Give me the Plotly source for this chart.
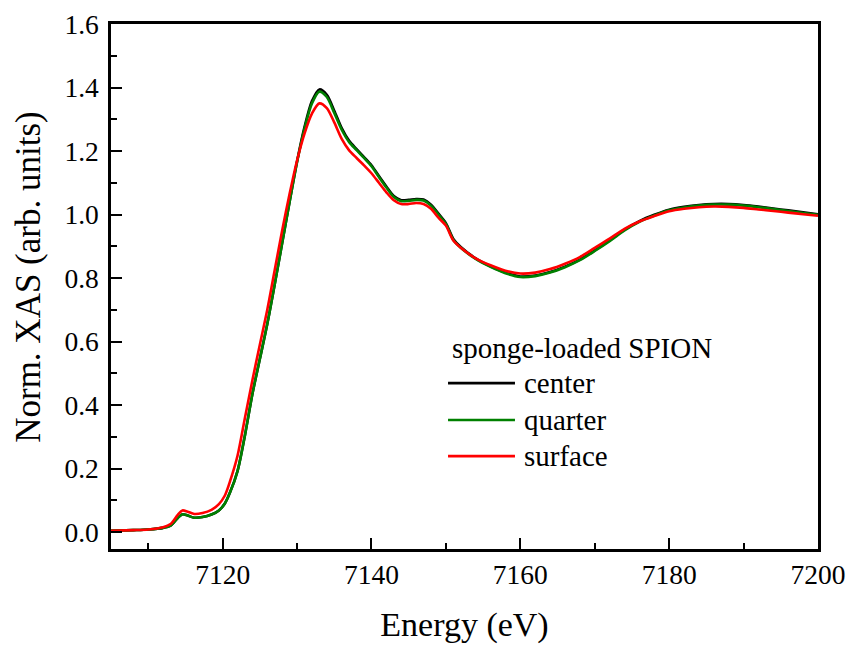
import plotly.graph_objects as go

energy = [7105, 7108, 7110, 7112, 7113, 7114, 7114.6, 7115.3, 7116.2, 7117.3, 7118.5,
          7119.5, 7120.3, 7121, 7122, 7123, 7124, 7125, 7126, 7127, 7128, 7129, 7130,
          7131, 7132, 7133, 7134, 7135, 7136, 7137, 7138, 7139, 7140, 7141, 7142, 7143,
          7144, 7145, 7146, 7147, 7148, 7149, 7150, 7151, 7152, 7154, 7156, 7158, 7160,
          7162, 7164, 7166, 7168, 7170, 7172, 7174, 7176, 7178, 7180, 7182, 7184, 7186,
          7188, 7190, 7192, 7194, 7196, 7198, 7200]

surface = [0.004, 0.006, 0.008, 0.015, 0.025, 0.055, 0.068, 0.064, 0.057, 0.060, 0.070,
           0.088, 0.115, 0.160, 0.240, 0.360, 0.478, 0.590, 0.700, 0.825, 0.950, 1.065, 1.170,
           1.255, 1.318, 1.350, 1.335, 1.290, 1.238, 1.202, 1.178, 1.155, 1.130, 1.100, 1.070, 1.045,
           1.033, 1.033, 1.036, 1.033, 1.018, 0.990, 0.965, 0.918, 0.895, 0.862, 0.840, 0.823, 0.814,
           0.817, 0.828, 0.845, 0.866, 0.895, 0.924, 0.955, 0.978, 0.995, 1.010, 1.018, 1.023, 1.025,
           1.024, 1.021, 1.016, 1.011, 1.006, 1.001, 0.996]

quarter = [0.004, 0.006, 0.008, 0.013, 0.020, 0.045, 0.056, 0.052, 0.045, 0.047, 0.055,
           0.068, 0.090, 0.125, 0.192, 0.305, 0.435, 0.545, 0.655, 0.780, 0.910, 1.040, 1.165,
           1.270, 1.350, 1.387, 1.370, 1.320, 1.267, 1.228, 1.203, 1.178, 1.152, 1.118, 1.085, 1.055,
           1.042, 1.043, 1.046, 1.044, 1.028, 1.000, 0.970, 0.920, 0.895, 0.860, 0.835, 0.815, 0.803,
           0.806, 0.817, 0.834, 0.856, 0.885, 0.916, 0.950, 0.977, 0.997, 1.013, 1.022, 1.028, 1.031,
           1.031, 1.028, 1.023, 1.017, 1.011, 1.005, 0.999]

center = [0.004, 0.006, 0.008, 0.013, 0.020, 0.045, 0.056, 0.052, 0.045, 0.047, 0.055,
          0.068, 0.090, 0.125, 0.192, 0.305, 0.435, 0.545, 0.655, 0.780, 0.910, 1.040, 1.167,
          1.275, 1.357, 1.394, 1.377, 1.327, 1.272, 1.232, 1.206, 1.181, 1.155, 1.121, 1.088, 1.058,
          1.045, 1.046, 1.049, 1.047, 1.031, 1.003, 0.973, 0.923, 0.898, 0.862, 0.837, 0.817, 0.805,
          0.808, 0.819, 0.836, 0.858, 0.887, 0.918, 0.952, 0.979, 0.999, 1.015, 1.024, 1.030, 1.033,
          1.033, 1.030, 1.025, 1.019, 1.013, 1.007, 1.001]

series_names = ["center", "quarter", "surface"]
series_colors = ["black", "#008000", "#ff0000"]
series_values = [center, quarter, surface]
legend_title = "sponge-loaded SPION"
x_title = "Energy (eV)"
y_title = "Norm. XAS (arb. units)"

x_ticks = [7120, 7140, 7160, 7180, 7200]
y_ticks = [0.0, 0.2, 0.4, 0.6, 0.8, 1.0, 1.2, 1.4, 1.6]

FONT = "Liberation Serif"

fig = go.Figure()
for name, color, vals in zip(series_names, series_colors, series_values):
    fig.add_trace(go.Scatter(x=energy, y=vals, mode="lines", name=name,
                             line=dict(color=color, width=2.6, shape="spline", smoothing=0.8),
                             showlegend=False))

# manual legend (paper coordinates)
fig.add_annotation(x=0.4795, y=0.383, xref="paper", yref="paper", text=legend_title,
                   showarrow=False, xanchor="left", yanchor="middle",
                   font=dict(family=FONT, size=29, color="black"))
rows_y = [0.316, 0.2457, 0.177]
for name, color, ry in zip(series_names, series_colors, rows_y):
    fig.add_shape(type="line", xref="paper", yref="paper", x0=0.4767, x1=0.5714, y0=ry, y1=ry,
                  line=dict(color=color, width=2.6))
    fig.add_annotation(x=0.5813, y=ry, xref="paper", yref="paper", text=name,
                       showarrow=False, xanchor="left", yanchor="middle",
                       font=dict(family=FONT, size=29, color="black"))

# y-axis title (slightly above the plot centre, as in the original)
fig.add_annotation(x=-0.117, y=0.519, xref="paper", yref="paper", text=y_title,
                   showarrow=False, textangle=-90, xanchor="center", yanchor="middle",
                   font=dict(family=FONT, size=35, color="black"))

axis_common = dict(showline=True, linecolor="black", linewidth=2.5, mirror=True,
                   ticks="inside", ticklen=11, tickwidth=2, tickcolor="black",
                   showgrid=False, zeroline=False, automargin=False,
                   tickfont=dict(family=FONT, size=27.5, color="black"))

fig.update_xaxes(range=[7105, 7200], tickvals=x_ticks, ticktext=[str(v) for v in x_ticks],
                 minor=dict(dtick=10, tick0=7100, ticks="inside", ticklen=6, tickwidth=2, tickcolor="black"),
                 title=dict(text=x_title, font=dict(family=FONT, size=34, color="black"), standoff=24),
                 ticklabelstandoff=-1,
                 **axis_common)
fig.update_yaxes(range=[-0.0535, 1.6], tickvals=y_ticks, ticktext=[f"{v:.1f}" for v in y_ticks],
                 minor=dict(dtick=0.1, tick0=0, ticks="inside", ticklen=6, tickwidth=2, tickcolor="black"),
                 ticklabelstandoff=4,
                 **axis_common)

fig.update_layout(width=849, height=646, margin=dict(l=111, r=31, t=24, b=97, autoexpand=False),
                  paper_bgcolor="white", plot_bgcolor="white",
                  font=dict(family=FONT, color="black"))

fig.write_html("out.html")
